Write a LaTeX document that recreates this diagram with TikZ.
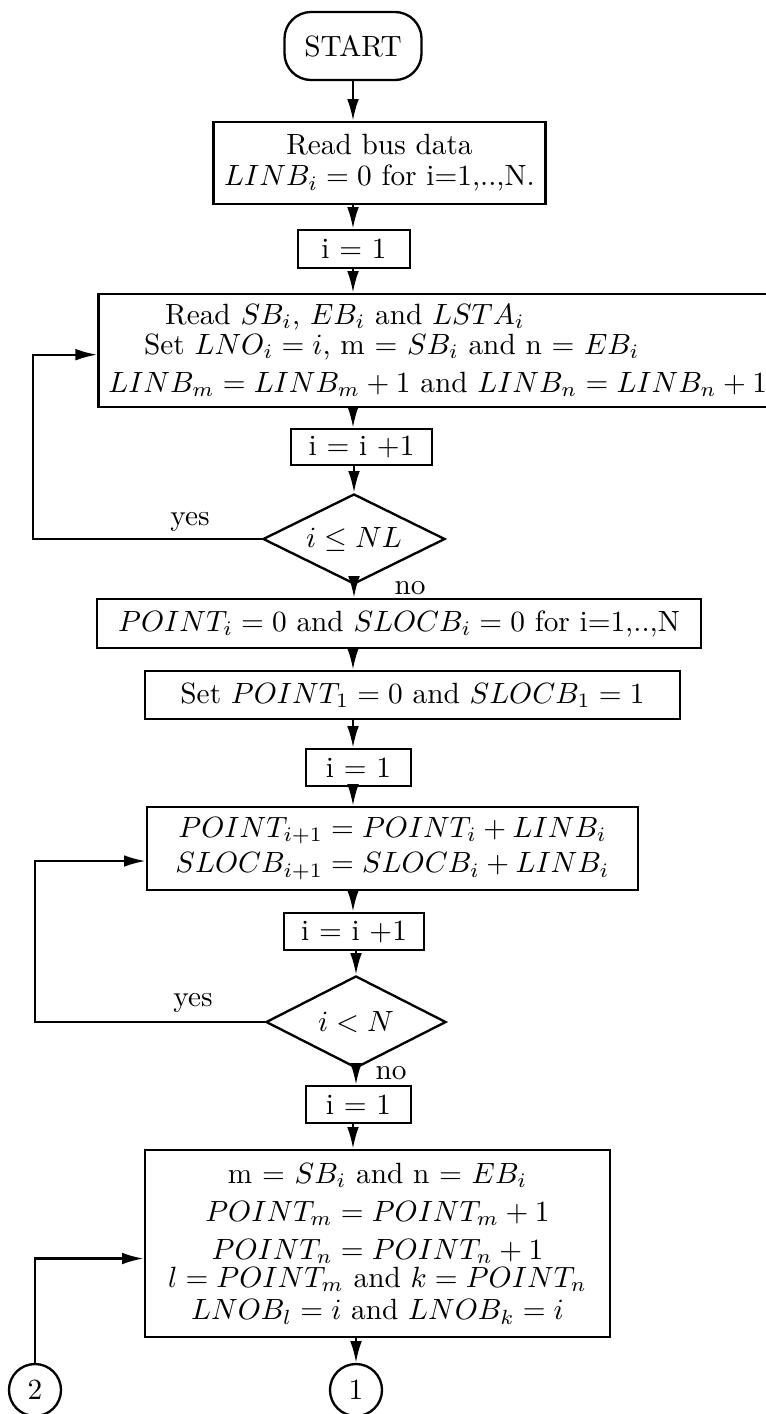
\documentclass[tikz,border=0pt]{standalone}
\usetikzlibrary{shapes.geometric,arrows.meta}
\begin{document}
\begin{tikzpicture}[
    x=0.012cm, y=-0.012cm,
    >={Latex[length=2.6mm,width=1.4mm]},
    box/.style={
        draw,
        thick,
        inner sep=1pt,
        align=center
    },
    test/.style={
        draw,
        thick,
        diamond,
        aspect=2,
        inner sep=0pt
    },
    conn/.style={
        draw,
        thick,
        circle,
        minimum size=6.24mm,
        inner sep=0pt
    }
]

\useasboundingbox (0,0) rectangle (765,1414);
\coordinate (ax) at (353,0);
\coordinate (lft1) at (33,0);
\coordinate (lft2) at (35,0);

\node[box, rounded corners=3.2mm, minimum width=16.44mm, minimum height=8.16mm]
    (start) at (353,46) {START};

\node[box, minimum width=39.84mm, minimum height=9.84mm] (readbus) at (379.5,163)
    {Read bus data\\[-1.5pt]$LINB_i = 0$ for i=1,..,N.};

\node[box, minimum width=13.44mm, minimum height=4.56mm] (init1) at (354,249) {i $=$ 1};

\node[box, align=left, minimum width=81.4mm, minimum height=13.56mm] (readline) at (437.7,350.5)
    {\hspace*{19.4pt}Read $SB_i$, $EB_i$ and $LSTA_i$\\[-1.8pt]
     \hspace*{12.2pt}Set $LNO_i = i$, m $=$ $SB_i$ and n $=$ $EB_i$\\[1pt]
     $LINB_m = LINB_m + 1$ and $LINB_n = LINB_n + 1$};

\node[box, minimum width=16.92mm, minimum height=4.32mm] (inc1) at (361.5,447) {i $=$ i $+$1};

\node[test, minimum width=21.84mm, minimum height=10.8mm] (dec1) at (354,539) {$i \leq NL$};

\node (yes1) at (190,522) {yes};
\node (no1) at (410,588) {no};

\node[box, minimum width=72.48mm, minimum height=5.88mm] (initp) at (399,623.5)
    {$POINT_i = 0$ and $SLOCB_i = 0$ for i=1,..,N};

\node[box, minimum width=64.2mm, minimum height=5.76mm] (setp) at (412.5,695)
    {Set $POINT_1 = 0$ and $SLOCB_1 = 1$};

\node[box, minimum width=12.6mm, minimum height=4.44mm] (init2) at (358.5,767.5) {i $=$ 1};

\node[box, minimum width=58.92mm, minimum height=9.96mm] (update) at (392.5,848.5)
    {$POINT_{i+1} = POINT_i + LINB_i$\\$SLOCB_{i+1} = SLOCB_i + LINB_i$};

\node[box, minimum width=16.8mm, minimum height=4.44mm] (inc2) at (354,931.5) {i $=$ i $+$1};

\node[test, minimum width=21.6mm, minimum height=11.04mm] (dec2) at (356,1022) {$i < N$};

\node (yes2) at (193,1003) {yes};
\node (no2) at (391,1073) {no};

\node[box, minimum width=12.6mm, minimum height=4.44mm] (init3) at (358.5,1104.5) {i $=$ 1};

\node[box, minimum width=55.8mm, minimum height=22.44mm] (assign) at (377.5,1243.5)
    {m $=$ $SB_i$ and n $=$ $EB_i$\\[1pt]
     $POINT_m = POINT_m + 1$\\[1pt]
     $POINT_n = POINT_n + 1$\\[-2.5pt]
     $l = POINT_m$ and $k = POINT_n$\\[-1pt]
     $LNOB_l = i$ and $LNOB_k = i$};

\node[conn] (conn1) at (356,1390) {1};
\node[conn] (conn2) at (35,1390) {2};

% main line
\draw[->, thick] (start.south -| ax) -- (readbus.north -| ax);
\draw[->, thick] (readbus.south -| ax) -- (init1.north -| ax);
\draw[->, thick] (init1.south -| ax) -- (readline.north -| ax);
\draw[->, thick] (readline.south -| ax) -- (inc1.north -| ax);
\draw[->, thick] (inc1.south -| dec1) -- (dec1.north);
\draw[->, thick] (dec1.south) -- (initp.north -| dec1);
\draw[->, thick] (initp.south -| ax) -- (setp.north -| ax);
\draw[->, thick] (setp.south -| ax) -- (init2.north -| ax);
\draw[->, thick] (init2.south -| ax) -- (update.north -| ax);
\draw[->, thick] (update.south -| ax) -- (inc2.north -| ax);
\draw[->, thick] (inc2.south -| dec2) -- (dec2.north);
\draw[->, thick] (dec2.south) -- (init3.north -| dec2);
\draw[->, thick] (init3.south -| ax) -- (assign.north -| ax);
\draw[->, thick] (assign.south -| conn1) -- (conn1.north);

% loops back
\draw[->, thick] (dec1.west) -- (dec1.west -| lft1) |- ([yshift=-0.5mm]readline.west);
\draw[->, thick] (dec2.west) -- (dec2.west -| lft2) |- ([yshift=-1.5mm]update.west);
\draw[->, thick] (conn2.north) |- ([yshift=-1.8mm]assign.west);

\end{tikzpicture}
\end{document}
